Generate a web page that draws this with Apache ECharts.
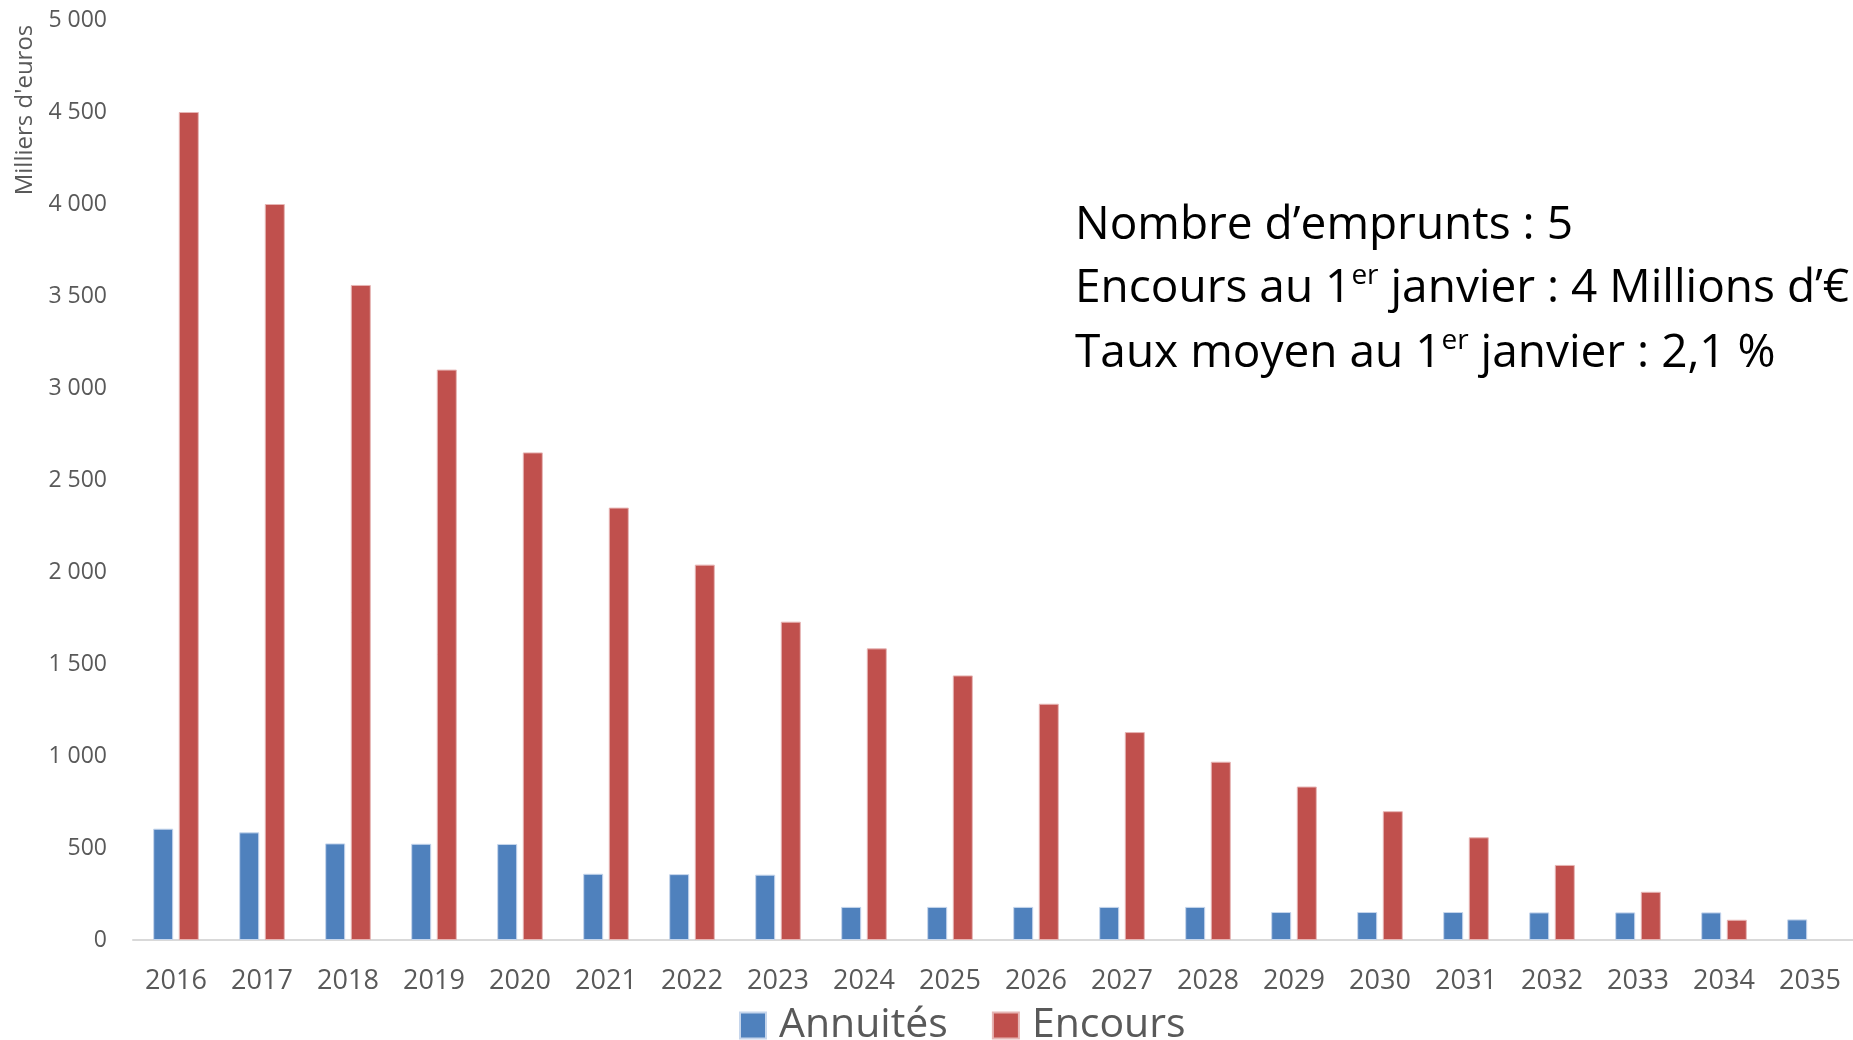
<!DOCTYPE html>
<html>
<head>
<meta charset="utf-8">
<script src="https://cdn.jsdelivr.net/npm/echarts@6/dist/echarts.min.js"></script>
<style>
html, body { margin: 0; padding: 0; background: #fff; }
#chart { width: 1853px; height: 1040px; }
</style>
</head>
<body>
<div id="chart"></div>
<script>
var years = ['2016', '2017', '2018', '2019', '2020', '2021', '2022', '2023', '2024', '2025',
    '2026', '2027', '2028', '2029', '2030', '2031', '2032', '2033', '2034', '2035'];
var annuites = [605, 585, 525, 523, 522, 360, 358, 355, 180, 180,
    180, 180, 180, 152, 152, 152, 150, 150, 150, 112];
var encours = [4500, 4000, 3560, 3100, 2650, 2350, 2040, 1730, 1585, 1438,
    1284, 1130, 969, 834, 700, 558, 408, 262, 110, null];
var infoLines = [
    [{ t: 'Nombre d\u2019emprunts : 5' }],
    [{ t: 'Encours au 1' }, { t: 'er', sup: true }, { t: ' janvier : 4 Millions d\u2019\u20ac' }],
    [{ t: 'Taux moyen au 1' }, { t: 'er', sup: true }, { t: ' janvier : 2,1 %' }]
];

var myChart = echarts.init(document.getElementById('chart'));

function fmt(v) {
    return String(v).replace(/\B(?=(\d{3})+(?!\d))/g, ' ');
}

// vertical centre of each info line
var infoY = [226, 289, 354];
var graphics = infoLines.map(function (parts, k) {
    var txt = parts.map(function (p) {
        return p.sup ? '{sup|' + p.t + '}' : '{n|' + p.t + '}';
    }).join('');
    return {
        type: 'text',
        x: 1075,
        y: infoY[k],
        style: {
            text: txt,
            verticalAlign: 'middle',
            rich: {
                n: { fontFamily: 'Open Sans', fontSize: 46, fill: '#000', lineHeight: 54 },
                sup: { fontFamily: 'Open Sans', fontSize: 28, fill: '#000', lineHeight: 54, verticalAlign: 'top' }
            }
        }
    };
});
graphics.push({
    type: 'text',
    x: 25,
    y: 110,
    rotation: Math.PI / 2,
    style: {
        text: 'Milliers d\'euros',
        fontFamily: 'Open Sans',
        fontSize: 24,
        fill: '#595959',
        align: 'center',
        verticalAlign: 'middle'
    }
});

option = {
    animation: false,
    backgroundColor: '#fff',
    grid: { left: 133, top: 20, width: 1724, bottom: 100, containLabel: false },
    graphic: graphics,
    legend: {
        data: ['Annuités', 'Encours'],
        left: 739,
        top: 1005,
        padding: 0,
        itemWidth: 26,
        itemHeight: 26,
        itemGap: 44,
        icon: 'rect',
        textStyle: { fontFamily: 'Open Sans', fontSize: 41, color: '#595959', padding: [0, 0, 0, 8] }
    },
    xAxis: {
        type: 'category',
        data: years,
        axisLine: { lineStyle: { color: '#D9D9D9', width: 2 } },
        axisTick: { show: false },
        axisLabel: { fontFamily: 'Open Sans', fontSize: 27, color: '#595959', margin: 28 }
    },
    yAxis: {
        type: 'value',
        min: 0,
        max: 5000,
        interval: 500,
        splitLine: { show: false },
        axisLine: { show: false },
        axisTick: { show: false },
        axisLabel: {
            fontFamily: 'Open Sans', fontSize: 23, color: '#595959', margin: 26,
            formatter: fmt
        }
    },
    series: [{
        name: 'Annuités',
        type: 'bar',
        data: annuites,
        barWidth: 20,
        barGap: '28%',
        itemStyle: { color: '#4F81BD', borderColor: '#C6D6EC', borderWidth: 1 }
    }, {
        name: 'Encours',
        type: 'bar',
        data: encours,
        barWidth: 20,
        itemStyle: { color: '#C0504D', borderColor: '#E6B5B4', borderWidth: 1 }
    }]
};

myChart.setOption(option);
</script>
</body>
</html>
